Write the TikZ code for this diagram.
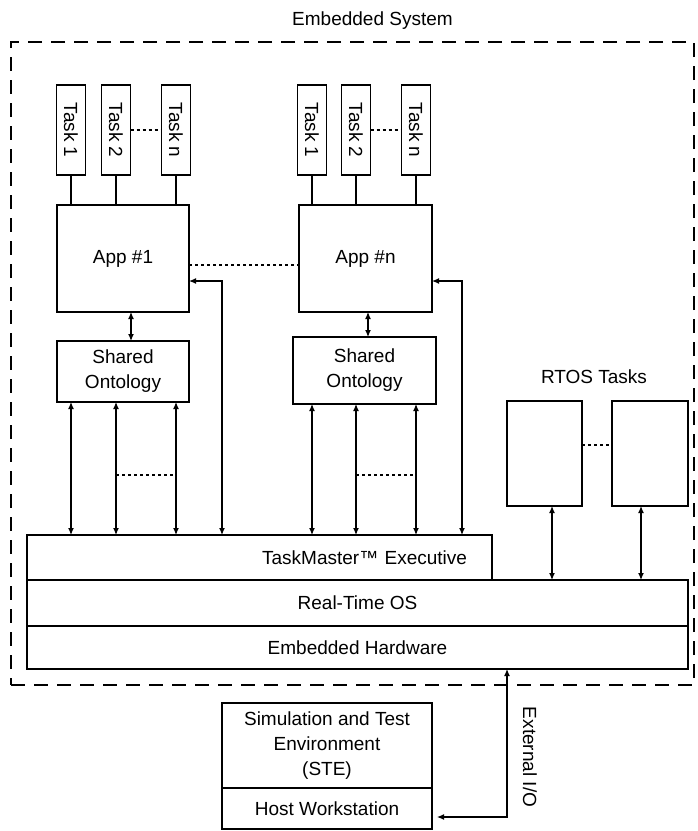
\documentclass[tikz,border=0pt]{standalone}
\usepackage{fontspec}
\usepackage{graphicx}
\setmainfont{Liberation Sans}
\usetikzlibrary{arrows.meta, positioning}

\begin{document}
\begin{tikzpicture}[
  x=1pt, y=-1pt,
  font=\fontsize{19}{25}\selectfont,
  box/.style={rectangle, draw, line width=1.2pt, outer sep=0pt, align=center},
  taskbox/.style={box, minimum width=29pt, minimum height=90pt},
  appbox/.style={box, minimum height=107pt},
  layer/.style={box, minimum width=661pt},
  frame/.style={draw, line width=1.4pt, outer sep=0pt, dash pattern=on 14pt off 9pt},
  link/.style={line width=1.2pt},
  dotline/.style={line width=1.2pt, dash pattern=on 3pt off 3pt},
  darrow/.style={{Latex[length=7pt,width=6pt]}-{Latex[length=7pt,width=6pt]}, line width=1.2pt}
]
\useasboundingbox (0,0) rectangle (697,831);

% Embedded system frame
\node[frame, minimum width=683pt, minimum height=643pt] (sys) at (352.5,363.5) {};
\node[above=9pt of sys.north, xshift=20pt] (systitle) {Embedded System};

% Tasks
\node[taskbox] (a1t1) at (71,130) {\rotatebox{-90}{Task 1}};
\node[taskbox] (a1t2) at (116,130) {\rotatebox{-90}{Task 2}};
\node[taskbox] (a1tn) at (176,130) {\rotatebox{-90}{Task n}};
\node[taskbox] (ant1) at (312,130) {\rotatebox{-90}{Task 1}};
\node[taskbox] (ant2) at (356,130) {\rotatebox{-90}{Task 2}};
\node[taskbox] (antn) at (416,130) {\rotatebox{-90}{Task n}};

% Applications
\node[appbox, minimum width=132pt] (app1) at (123,258.5) {App \#1};
\node[appbox, minimum width=133pt] (appn) at (365.5,258.5) {App \#n};

% Shared ontologies
\node[box, minimum width=132pt, minimum height=61pt] (ont1) at (123,371.5) {Shared\\Ontology};
\node[box, minimum width=143pt, minimum height=67pt] (ontn) at (364.5,370.5) {Shared\\Ontology};

% RTOS tasks
\node[box, minimum width=75pt, minimum height=105pt] (rt1) at (544.5,453.5) {};
\node[box, minimum width=76pt, minimum height=105pt] (rt2) at (650,453.5) {};
\node (rtlbl) at (594,377) {RTOS Tasks};

% Layers
\node[box, minimum width=465pt, minimum height=45pt, text width=415pt, inner xsep=25pt, align=right] (exec) at (259.5,557.5) {TaskMaster™ Executive};
\node[layer, minimum height=46pt, below right=0pt and 0pt of exec.south west] (rtos) {Real-Time OS};
\node[layer, minimum height=43pt, below=0pt of rtos] (hw) {Embedded Hardware};

% Host
\node[box, minimum width=210pt, minimum height=85pt] (ste) at (327,745.5) {Simulation and Test\\Environment\\(STE)};
\node[box, minimum width=210pt, minimum height=41pt, below=0pt of ste] (host) {Host Workstation};
\node[rotate=-90] (iolbl) at (530,757) {External I/O};

\coordinate (fb1) at (222,0);
\coordinate (fbn) at (462,0);
\coordinate (dots) at (0,475);
\coordinate (io) at (507,0);

% Connections
\foreach \t in {a1t1,a1t2,a1tn} \draw[link] (\t) -- (\t |- app1.north);
\foreach \t in {ant1,ant2,antn} \draw[link] (\t) -- (\t |- appn.north);
\draw[dotline] (a1t2) -- (a1tn);
\draw[dotline] (ant2) -- (antn);
\draw[dotline] ([yshift=-6.5pt]app1.east) -- ([yshift=-6.5pt]appn.west);
\draw[darrow] ([xshift=8pt]app1.south) -- ([xshift=8pt]app1.south |- ont1.north);
\draw[darrow] ([xshift=2.5pt]appn.south) -- ([xshift=2.5pt]appn.south |- ontn.north);
\foreach \t in {a1t1,a1t2,a1tn} \draw[darrow] (\t |- ont1.south) -- (\t |- exec.north);
\foreach \t in {ant1,ant2,antn} \draw[darrow] (\t |- ontn.south) -- (\t |- exec.north);
\draw[dotline] (a1t2 |- dots) -- (a1tn |- dots);
\draw[dotline] (ant2 |- dots) -- (antn |- dots);
\draw[darrow] (exec.north -| fb1) |- ([yshift=-22.5pt]app1.east);
\draw[darrow] (exec.north -| fbn) |- ([yshift=-22.5pt]appn.east);
\draw[darrow] ([xshift=7.5pt]rt1.south) -- ([xshift=7.5pt]rt1.south |- rtos.north);
\draw[darrow] ([xshift=-9pt]rt2.south) -- ([xshift=-9pt]rt2.south |- rtos.north);
\draw[dotline] ([yshift=8.5pt]rt1.east) -- ([yshift=8.5pt]rt2.west);
\draw[darrow] (hw.south -| io) |- ([xshift=5pt,yshift=-8.5pt]host.east);

\end{tikzpicture}
\end{document}
